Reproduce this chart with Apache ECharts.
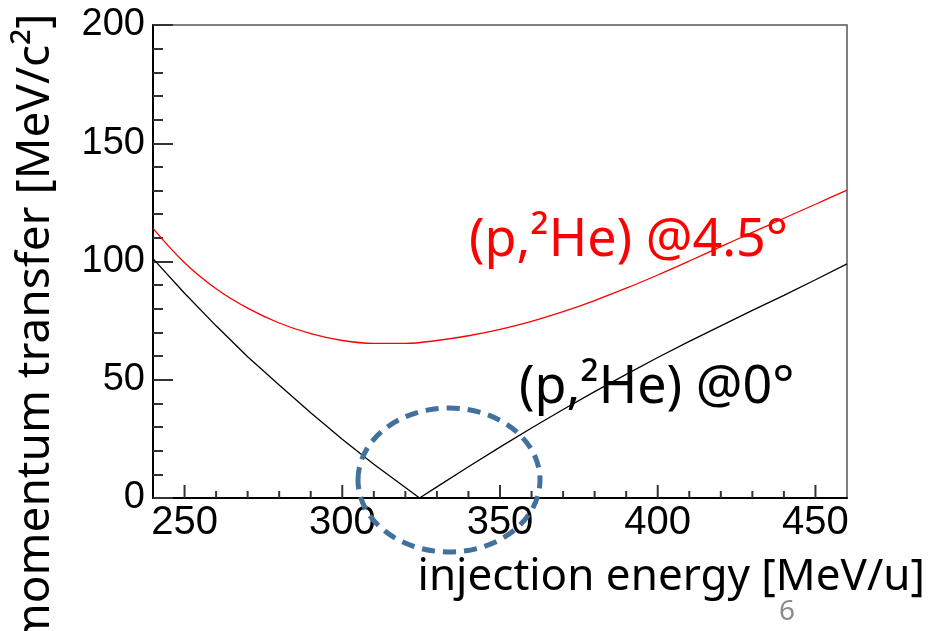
<!DOCTYPE html>
<html>
<head>
<meta charset="utf-8">
<script src="https://cdn.jsdelivr.net/npm/echarts@6/dist/echarts.min.js"></script>
<style>
html, body { margin: 0; padding: 0; background: #fff; }
#main { width: 948px; height: 631px; }
</style>
</head>
<body>
<div id="main"></div>
<script>
// injection energy [MeV/u]
var energy = [240, 250, 260, 270, 280, 290, 300, 310, 320, 330, 340, 350, 360, 370, 380, 390, 400, 410, 420, 430, 440, 450, 460];
// (p,2He) @4.5 deg, momentum transfer [MeV/c2]
var qRed = [114, 99.5, 88.5, 80.3, 74, 69.5, 66.6, 65.4, 65.4, 66.6, 68.6, 71.3, 74.7, 78.8, 83.5, 88.7, 94.3, 100.2, 106.3, 112.3, 118.3, 124.2, 130.2];

// (p,2He) @0 deg, the two branches meet at zero
var energyLeft = [240, 250, 260, 270, 280, 290, 300, 310, 320, 324.5];
var qZeroLeft = [101.2, 86.6, 72.8, 59.7, 47.8, 36, 24.8, 14.3, 4.4, 0];
var energyRight = [324.5, 330, 340, 350, 360, 370, 380, 390, 400, 410, 420, 430, 440, 450, 460];
var qZeroRight = [0, 4.7, 13.2, 21.5, 29.6, 37.4, 45, 52.3, 59.4, 66.2, 72.8, 79.3, 85.7, 92.3, 99];

// x axis tick labels, and minor tick positions
var xMajor = [250, 300, 350, 400, 450];
var xMinor = [260, 270, 280, 290, 310, 320, 330, 340, 360, 370, 380, 390, 410, 420, 430, 440];

function pairs(xs, ys) {
    return xs.map(function (x, i) { return [x, ys[i]]; });
}
var zeroData = pairs(energyLeft, qZeroLeft).concat(pairs(energyRight, qZeroRight).slice(1));
var tickData = xMajor.map(function (v) { return [v, 13]; })
    .concat(xMinor.map(function (v) { return [v, 7]; }));

var labelFont = 'Liberation Sans';
var textFont = 'Noto Sans';
var tickStyle = { color: '#333', width: 2 };

var myChart = echarts.init(document.getElementById('main'));
myChart.setOption({
    animation: false,
    backgroundColor: '#fff',
    grid: {
        left: 153, top: 25, width: 694, height: 473,
        show: true, borderColor: '#555', borderWidth: 1.5
    },
    xAxis: {
        type: 'value', min: 240, max: 460, interval: 10, position: 'bottom',
        axisLine: { show: true, onZero: false, lineStyle: { color: '#000', width: 2 } },
        axisTick: { show: false },
        axisLabel: { customValues: xMajor, fontSize: 40, fontFamily: labelFont, color: '#000', margin: 5 },
        splitLine: { show: false }
    },
    yAxis: {
        type: 'value', min: 0, max: 200, interval: 50,
        axisLine: { show: true, lineStyle: { color: '#000', width: 2 } },
        axisTick: { show: true, inside: true, length: 20, lineStyle: tickStyle },
        minorTick: { show: true, splitNumber: 5, length: 10, lineStyle: tickStyle },
        axisLabel: { fontSize: 38, fontFamily: labelFont, color: '#000', margin: 8 },
        splitLine: { show: false },
        minorSplitLine: { show: false }
    },
    series: [{
        name: '4.5deg',
        type: 'line',
        data: pairs(energy, qRed),
        smooth: 0.4,
        showSymbol: false,
        lineStyle: { color: '#ff0000', width: 1.3 }
    }, {
        name: '0deg',
        type: 'line',
        data: zeroData,
        showSymbol: false,
        lineStyle: { color: '#000', width: 1.3 }
    }, {
        // x axis ticks, drawn inward from the axis line
        type: 'custom',
        data: tickData,
        silent: true,
        renderItem: function (params, api) {
            var p = api.coord([api.value(0), 0]);
            return {
                type: 'line',
                shape: { x1: p[0], y1: p[1], x2: p[0], y2: p[1] - api.value(1) },
                style: { stroke: tickStyle.color, lineWidth: tickStyle.width }
            };
        }
    }],
    graphic: [{
        type: 'ellipse',
        shape: { cx: 449, cy: 480, rx: 91, ry: 72 },
        style: { fill: 'none', stroke: '#41719c', lineWidth: 5, lineDash: [13, 8] },
        z: 100
    }, {
        type: 'text', x: 469, y: 241,
        style: { text: '(p,\u00b2He) @4.5\u00b0', fill: '#ff0000', font: '52px "' + textFont + '"', textVerticalAlign: 'middle' }
    }, {
        type: 'text', x: 519, y: 388,
        style: { text: '(p,\u00b2He) @0\u00b0', fill: '#000', font: '52px "' + textFont + '"', textVerticalAlign: 'middle' }
    }, {
        type: 'text', x: 925, y: 577,
        style: { text: 'injection energy [MeV/u]', fill: '#000', font: '44px "' + textFont + '"', textAlign: 'right', textVerticalAlign: 'middle' }
    }, {
        type: 'text', x: 36, y: 330, rotation: Math.PI / 2,
        style: { text: 'momentum transfer [MeV/c\u00b2]', fill: '#000', font: '46px "' + textFont + '"', textAlign: 'center', textVerticalAlign: 'middle' }
    }, {
        type: 'text', x: 787, y: 612,
        style: { text: '6', fill: '#8c8c8c', font: '28px "' + textFont + '"', textAlign: 'center', textVerticalAlign: 'middle' }
    }]
});
</script>
</body>
</html>
